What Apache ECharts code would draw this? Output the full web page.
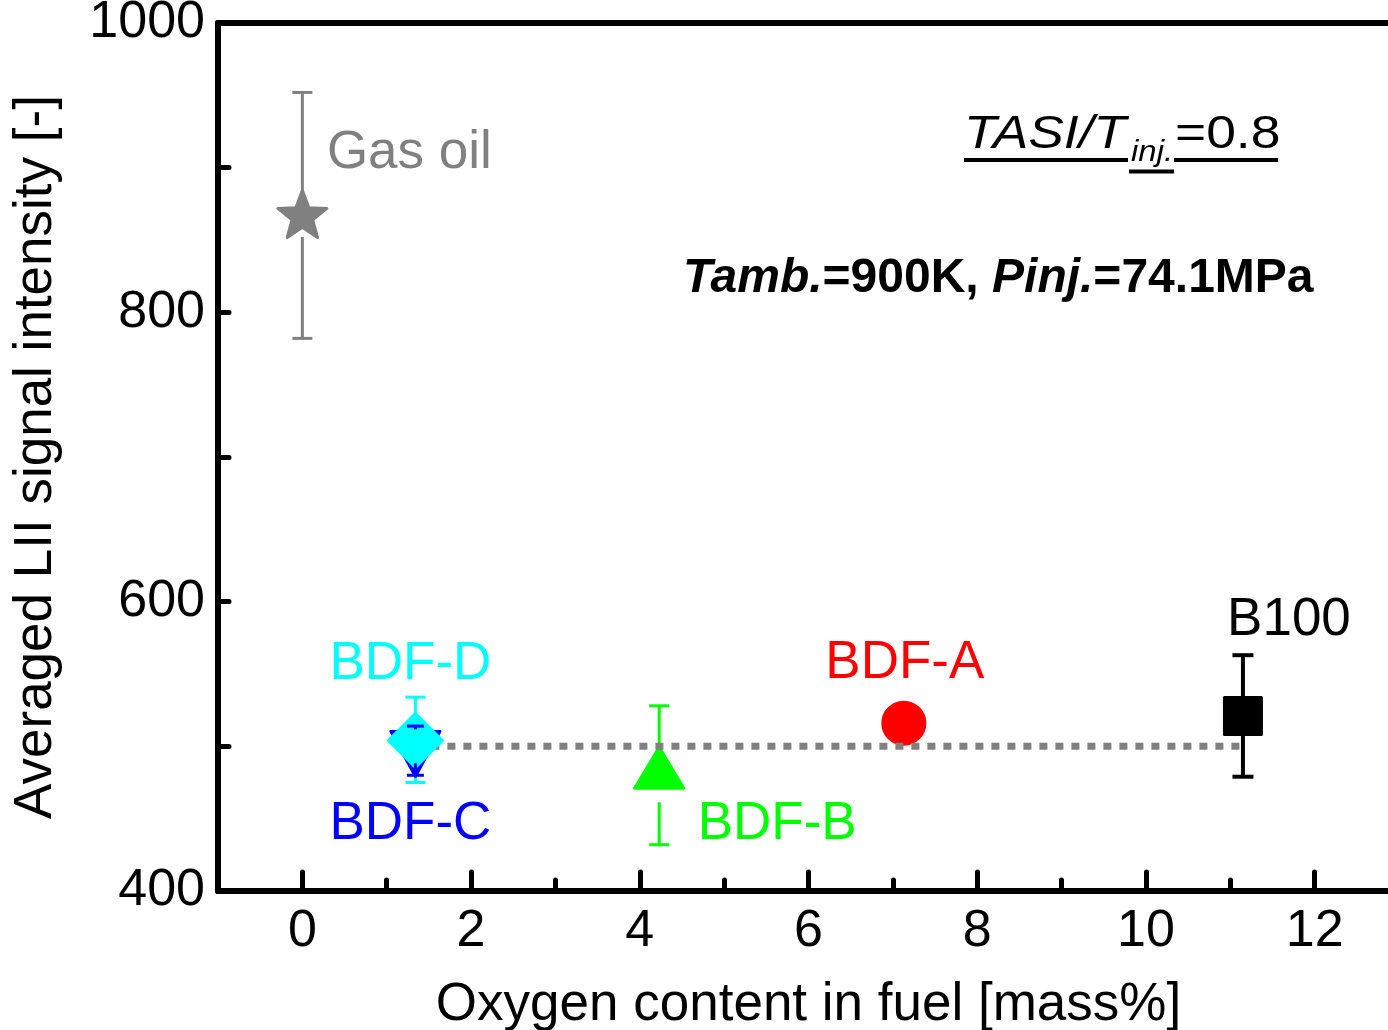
<!DOCTYPE html>
<html>
<head>
<meta charset="utf-8">
<script src="https://cdn.jsdelivr.net/npm/echarts@6/dist/echarts.min.js"></script>
<style>
  html, body { margin: 0; padding: 0; background: #fff; }
  #chart { width: 1388px; height: 1030px; }
</style>
</head>
<body>
<div id="chart"></div>
<script>
// Fuels, their oxygen content and averaged LII signal with scatter range
const fuels   = ['Gas oil', 'BDF-D', 'BDF-C', 'BDF-B', 'BDF-A', 'B100'];
const oxygen  = [0, 1.34, 1.34, 4.23, 7.13, 11.15];
const lii     = [868, 504, 500, 480, 516, 521];
const liiLow  = [782, 475, 480, 432, null, 479];
const liiHigh = [952, 534, 514, 528, null, 563];

// Mean level of the biodiesel fuels (dotted reference line)
const bdfMean = 500;
const bdfMeanFrom = 1.34;
const bdfMeanTo = 11.15;

// Axis tick values
const xTickValues = [0, 2, 4, 6, 8, 10, 12];
const yTickValues = [400, 600, 800, 1000];

const FONT = '"Liberation Sans", Arial, sans-serif';

// Marker style for each fuel
const styles = {
  'Gas oil': { color: '#808080', symbol: 'path://M100,0 L124.7,66 L195.1,69.1 L139.9,113 L158.8,180.9 L100,142 L41.2,180.9 L60.1,113 L4.9,69.1 L75.3,66 Z',
               size: [49, 47], offset: [0, 0], rotate: 0, bar: 3, cap: 20, gap: 23, label: [107, -61], z: 3 },
  'BDF-D':   { color: '#00ffff', symbol: 'diamond', size: [54, 54], offset: [0, 0], rotate: 0, bar: 3, cap: 20, gap: 0, label: [-5, -76], z: 6 },
  'BDF-C':   { color: '#0000ff', symbol: 'triangle', size: [49, 45], offset: [0, 7.5], rotate: 180, bar: 3, cap: 17, gap: 17, label: [-5, 71], z: 5 },
  'BDF-B':   { color: '#00ff00', symbol: 'triangle', size: [49, 41], offset: [0, -7.5], rotate: 0, bar: 3, cap: 20, gap: 27, label: [118, 57], z: 3 },
  'BDF-A':   { color: '#ff0000', symbol: 'circle', size: 42, offset: [0, 0], rotate: 0, bar: 3, cap: 20, gap: 0, label: [1, -60], z: 3 },
  'B100':    { color: '#000000', symbol: 'rect', size: 37, offset: [0, 0], rotate: 0, bar: 4, cap: 21, gap: 0, label: [46, -96], z: 3 }
};

const series = [];

// Error bars drawn from the low/high values, broken around the marker
fuels.forEach((name, i) => {
  if (liiLow[i] == null) return;
  const st = styles[name];
  series.push({
    type: 'custom',
    name: name + ' range',
    xAxisIndex: 0, yAxisIndex: 0,
    z: name === 'BDF-C' ? 7 : 2,
    silent: true,
    data: [[oxygen[i], lii[i], liiLow[i], liiHigh[i]]],
    renderItem: function (params, api) {
      const c = api.coord([api.value(0), api.value(1)]);
      const lo = api.coord([api.value(0), api.value(2)]);
      const hi = api.coord([api.value(0), api.value(3)]);
      const x = c[0];
      const half = st.cap / 2;
      const style = { stroke: st.color, lineWidth: st.bar, fill: null };
      const kids = [
        { type: 'line', shape: { x1: x, y1: hi[1], x2: x, y2: c[1] - st.gap }, style: style },
        { type: 'line', shape: { x1: x, y1: c[1] + st.gap, x2: x, y2: lo[1] }, style: style },
        { type: 'line', shape: { x1: x - half, y1: hi[1], x2: x + half, y2: hi[1] }, style: style },
        { type: 'line', shape: { x1: x - half, y1: lo[1], x2: x + half, y2: lo[1] }, style: style }
      ];
      return { type: 'group', children: kids };
    }
  });
});

// Markers with their fuel names
fuels.forEach((name, i) => {
  const st = styles[name];
  series.push({
    type: 'scatter',
    name: name,
    xAxisIndex: 0, yAxisIndex: 0,
    z: st.z,
    symbol: st.symbol,
    symbolSize: st.size,
    symbolOffset: st.offset,
    symbolRotate: st.rotate,
    itemStyle: { color: st.color, borderColor: st.color, borderWidth: 3, borderJoin: 'round', opacity: 1 },
    label: {
      show: true,
      position: 'inside',
      offset: st.label,
      formatter: name,
      color: st.color,
      fontFamily: FONT,
      fontSize: 53
    },
    emphasis: { disabled: true },
    data: [[oxygen[i], lii[i]]]
  });
});

// Dotted mean line of the biodiesels
series.push({
  type: 'line',
  name: 'BDF mean',
  z: 4,
  symbol: 'none',
  lineStyle: { color: '#808080', width: 7, type: [8, 8] },
  data: [[bdfMeanFrom, bdfMean], [bdfMeanTo, bdfMean]]
});

const chart = echarts.init(document.getElementById('chart'), null, { renderer: 'canvas' });

chart.setOption({
  animation: false,
  backgroundColor: '#ffffff',
  // The plot area runs a little past the right edge of the page
  grid: { left: 218, top: 23, width: 1181, height: 868, containLabel: false, outerBoundsMode: 'none' },
  xAxis: [
    {
      type: 'value', position: 'bottom', min: -1, max: 13, interval: 1,
      name: 'Oxygen content in fuel [mass%]',
      nameLocation: 'middle', nameGap: 88,
      nameTextStyle: { fontFamily: FONT, fontSize: 53, color: '#000' },
      axisLine: { show: true, onZero: false, lineStyle: { color: '#000', width: 6 } },
      axisTick: { show: true, inside: true, length: 11, lineStyle: { color: '#000', width: 5, cap: 'round' } },
      axisLabel: {
        show: true, margin: 15, fontFamily: FONT, fontSize: 52, color: '#000',
        formatter: v => (xTickValues.indexOf(v) >= 0 ? String(v) : '')
      },
      splitLine: { show: false }
    },
    {
      type: 'value', position: 'bottom', min: -1, max: 13, interval: 1,
      axisLine: { show: false },
      axisTick: { show: true, inside: true, length: 19, customValues: xTickValues, lineStyle: { color: '#000', width: 5, cap: 'round' } },
      axisLabel: { show: false },
      splitLine: { show: false }
    },
    {
      type: 'value', position: 'top', min: -1, max: 13, interval: 1,
      axisLine: { show: true, onZero: false, lineStyle: { color: '#000', width: 6 } },
      axisTick: { show: false },
      axisLabel: { show: false },
      splitLine: { show: false }
    }
  ],
  yAxis: [
    {
      type: 'value', position: 'left', min: 400, max: 1000, interval: 100,
      name: 'Averaged LII signal intensity [-]',
      nameLocation: 'middle', nameGap: 155, nameRotate: 90,
      nameTextStyle: { fontFamily: FONT, fontSize: 53, color: '#000' },
      axisLine: { show: true, onZero: false, lineStyle: { color: '#000', width: 6 } },
      axisTick: { show: true, inside: true, length: 11, lineStyle: { color: '#000', width: 5, cap: 'round' } },
      axisLabel: {
        show: true, margin: 13, fontFamily: FONT, fontSize: 52, color: '#000',
        padding: [6, 0, 0, 0],
        formatter: v => (yTickValues.indexOf(v) >= 0 ? String(v) : '')
      },
      splitLine: { show: false }
    }
  ],
  series: series,
  graphic: [
    // Injection timing ratio, underlined with an underlined subscript
    { type: 'text', x: 964, y: 135, scaleX: 1.16, z: 10,
      style: { text: 'TASI/T', fontFamily: FONT, fontSize: 46, fontStyle: 'italic', fill: '#000', align: 'left', verticalAlign: 'middle' } },
    { type: 'text', x: 1131, y: 153, scaleX: 1.1, z: 10,
      style: { text: 'inj.', fontFamily: FONT, fontSize: 30, fontStyle: 'italic', fill: '#000', align: 'left', verticalAlign: 'middle' } },
    { type: 'text', x: 1175, y: 135, scaleX: 1.16, z: 10,
      style: { text: '=0.8', fontFamily: FONT, fontSize: 46, fill: '#000', align: 'left', verticalAlign: 'middle' } },
    { type: 'line', z: 10, shape: { x1: 964, y1: 160, x2: 1128, y2: 160 }, style: { stroke: '#000', lineWidth: 4 } },
    { type: 'line', z: 10, shape: { x1: 1129, y1: 171.5, x2: 1174, y2: 171.5 }, style: { stroke: '#000', lineWidth: 4 } },
    { type: 'line', z: 10, shape: { x1: 1174, y1: 160, x2: 1278, y2: 160 }, style: { stroke: '#000', lineWidth: 4 } },
    // Ambient temperature and injection pressure
    { type: 'text', x: 683, y: 279, z: 10,
      style: {
        text: '{bi|Tamb.}{b|=900K, }{bi|Pinj.}{b|=74.1MPa}',
        align: 'left',
        verticalAlign: 'middle',
        rich: {
          bi: { fontFamily: FONT, fontSize: 48, fontWeight: 'bold', fontStyle: 'italic', fill: '#000', color: '#000' },
          b:  { fontFamily: FONT, fontSize: 48, fontWeight: 'bold', fill: '#000', color: '#000' }
        }
      } }
  ]
});
</script>
</body>
</html>
